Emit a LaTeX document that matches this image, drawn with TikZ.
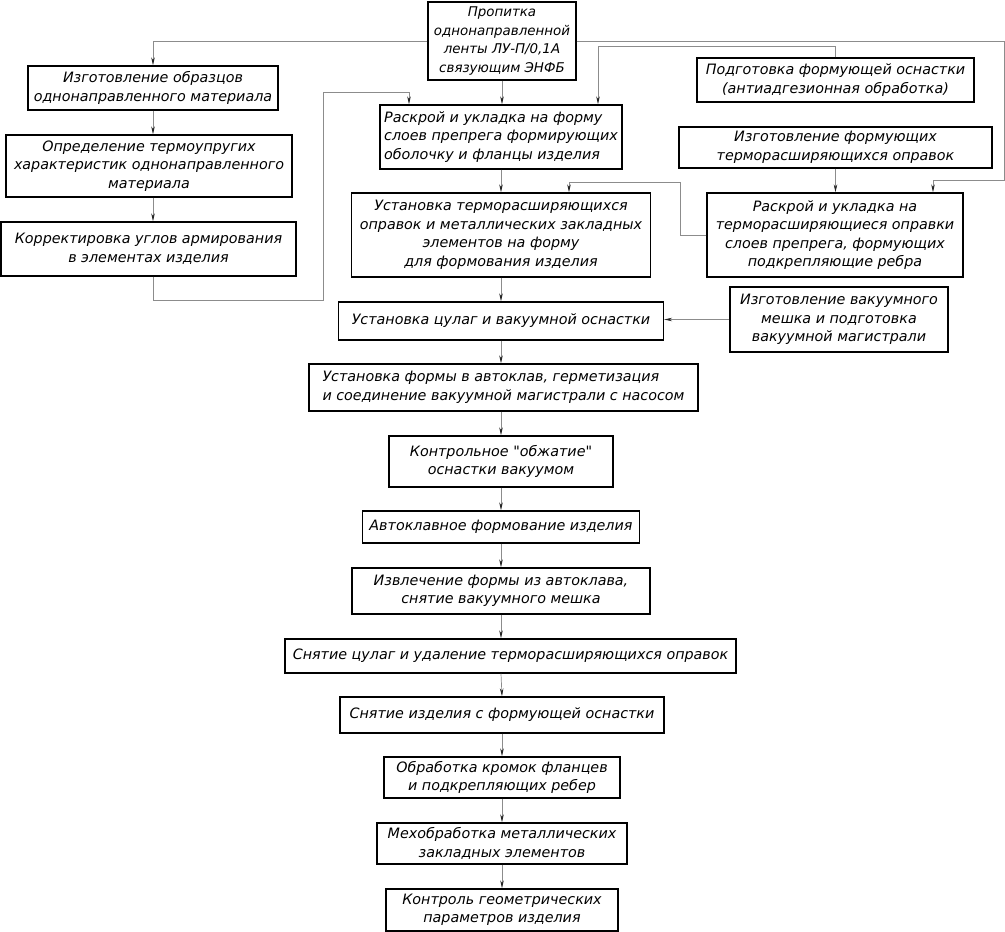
\documentclass[tikz,border=0pt]{standalone}
\usepackage{fontspec}
\newfontfamily\gost{DejaVu Sans Oblique}
\usetikzlibrary{arrows.meta}
\begin{document}
\begin{tikzpicture}[x=1pt,y=-1pt,
  box/.style={draw=black,line width=1.3pt,inner sep=0pt,align=center,
    font=\gost\fontsize{14.3}{18.5}\selectfont},
  conn/.style={draw=black!45,line width=0.7pt,-{Stealth[length=8pt,width=3.5pt,black!85]}}]
\path[fill=white] (0,0) rectangle (1005,932);
\useasboundingbox (0,0) rectangle (1005,932);
% boxes
\node[box,minimum width=148pt,minimum height=78pt,font=\gost\fontsize{13.4}{18.5}\selectfont] (top) at (502,41) {Пропитка\\однонаправленной\\ленты ЛУ-П/0,1А\\связующим ЭНФБ};
\node[box,minimum width=250pt,minimum height=44pt] (izg) at (153,88) {Изготовление образцов\\однонаправленного материала};
\node[box,minimum width=286pt,minimum height=62pt] (opr) at (149,166) {Определение термоупругих\\характеристик однонаправленного\\материала};
\node[box,minimum width=295pt,minimum height=54pt] (korr) at (148.5,249) {Корректировка углов армирования\\в элементах изделия};
\node[box,minimum width=242pt,minimum height=64pt,align=left] (raskr) at (501,137) {Раскрой и укладка на форму\\слоев препрега формирующих\\оболочку и фланцы изделия};
\node[box,minimum width=299pt,minimum height=84pt] (ust) at (501,235) {Установка терморасширяющихся\\оправок и металлических закладных\\элементов на форму\\для формования изделия};
\node[box,minimum width=277pt,minimum height=44pt] (podg) at (835.5,80) {Подготовка формующей оснастки\\(антиадгезионная обработка)};
\node[box,minimum width=313pt,minimum height=41pt] (izgf) at (835.5,147.5) {Изготовление формующих\\терморасширяющихся оправок};
\node[box,minimum width=256pt,minimum height=84pt] (raskr2) at (835,235) {Раскрой и укладка на\\терморасширяющиеся оправки\\слоев препрега, формующих\\подкрепляющие ребра};
\node[box,minimum width=218pt,minimum height=65pt] (vak) at (839,319.5) {Изготовление вакуумного\\мешка и подготовка\\вакуумной магистрали};
\node[box,minimum width=325pt,minimum height=38pt] (cul) at (501,321) {Установка цулаг и вакуумной оснастки};
\node[box,minimum width=389pt,minimum height=47pt,align=left] (form) at (503.5,387.5) {Установка формы в автоклав, герметизация\\и соединение вакуумной магистрали с насосом};
\node[box,minimum width=224pt,minimum height=51pt] (kontr) at (501,461.5) {Контрольное "обжатие"\\оснастки вакуумом};
\node[box,minimum width=277pt,minimum height=32pt] (avto) at (501,527) {Автоклавное формование изделия};
\node[box,minimum width=298pt,minimum height=46pt] (izvl) at (501,591) {Извлечение формы из автоклава,\\снятие вакуумного мешка};
\node[box,minimum width=451pt,minimum height=34pt] (cul2) at (510.5,656) {Снятие цулаг и удаление терморасширяющихся оправок};
\node[box,minimum width=324pt,minimum height=36pt] (snyat) at (502,715) {Снятие изделия с формующей оснастки};
\node[box,minimum width=236pt,minimum height=41pt] (obr) at (502,777.5) {Обработка кромок фланцев\\и подкрепляющих ребер};
\node[box,minimum width=250pt,minimum height=41pt] (meh) at (502,843.5) {Мехобработка металлических\\закладных элементов};
\node[box,minimum width=232pt,minimum height=42pt] (kgeom) at (502,910) {Контроль геометрических\\параметров изделия};
% helper coordinates
\coordinate (c1) at (323,300);
\coordinate (c2) at (409,92);
\coordinate (c3) at (1004,180);
\coordinate (c4x) at (933,0);
\coordinate (c5) at (598,46);
\coordinate (c6) at (680,182);
\coordinate (c7x) at (569,0);
% connectors
\draw[conn] (top.west) -| (izg.north);
\draw[conn] (izg.south) -- (izg.south |- opr.north);
\draw[conn] (izg.south |- opr.south) -- (izg.south |- korr.north);
\draw[conn] (izg.south |- korr.south) |- (c1) |- (c2) -- (c2 |- raskr.north);
\draw[conn] (top.south) -- (top.south |- raskr.north);
\draw[conn] (top.east) -| (c3) -| (c4x |- raskr2.north);
\draw[conn] (podg.north) |- (c5) -- (c5 |- raskr.north);
\draw[conn] (izgf.south) -- (izgf.south |- raskr2.north);
\draw[conn] (raskr.south) -- (raskr.south |- ust.north);
\draw[conn] (raskr2.west) -| (c6) -| (c7x |- ust.north);
\draw[conn] (ust.south) -- (ust.south |- cul.north);
\draw[conn] (vak.west) -- (vak.west -| cul.east);
\draw[conn] (cul.south) -- (cul.south |- form.north);
\draw[conn] (cul.south |- form.south) -- (kontr.north);
\draw[conn] (kontr.south) -- (avto.north);
\draw[conn] (avto.south) -- (izvl.north);
\draw[conn] (izvl.south) -- (izvl.south |- cul2.north);
\draw[conn] (izvl.south |- cul2.south) -- (snyat.north);
\draw[conn] (snyat.south) -- (obr.north);
\draw[conn] (obr.south) -- (meh.north);
\draw[conn] (meh.south) -- (kgeom.north);
\end{tikzpicture}
\end{document}
